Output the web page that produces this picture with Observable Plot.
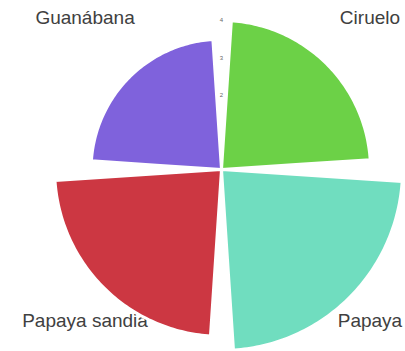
<!DOCTYPE html>
<html>
<head>
<meta charset="utf-8">
<script src="https://cdn.jsdelivr.net/npm/d3@7"></script>
<script src="https://cdn.jsdelivr.net/npm/@observablehq/plot@0.6"></script>
<style>
  html, body { margin: 0; padding: 0; background: #ffffff; }
  #chart svg { display: block; }
</style>
</head>
<body>
<div id="chart"></div>
<script>
const W = 405, H = 351;

// Data
const categories = ["Ciruelo", "Papaya", "Papaya sandia", "Guanábana"];
const values = [4.0, 4.86, 4.48, 3.5];
const colors = ["#6cd147", "#70ddbf", "#cc3742", "#7f62dc"];
const tickValues = [2, 3, 4];
const tickLabels = ["2", "3", "4"];

// Polar geometry via an azimuthal-equidistant projection centred on the pole
const DEG_PER_UNIT = 10;   // angular distance per value unit
const PAD = 3.8;           // angular gap on each side of a wedge (degrees)
const LABEL_R = 5.75;      // label radius in value units
const lonOf = theta => 180 - theta;      // theta: clockwise from 12 o'clock
const latOf = v => 90 - v * DEG_PER_UNIT;

const features = categories.map((name, i) => {
  const t0 = i * 90 + PAD, t1 = (i + 1) * 90 - PAD;
  const lat = latOf(values[i]);
  const outer = d3.range(t0, t1, 1).concat([t1]).map(t => [lonOf(t), lat]);
  const inner = [t1, t0].map(t => [lonOf(t), latOf(0.005)]);
  const ring = outer.concat(inner, [outer[0]]);
  return {type: "Feature", properties: {name}, geometry: {type: "Polygon", coordinates: [ring]}};
});

const labelData = categories.map((name, i) => ({name, i, theta: i * 90 + 45}));

const chart = Plot.plot({
  width: W,
  height: H,
  marginLeft: 72,
  marginRight: 35,
  marginTop: 20,
  marginBottom: 33,
  style: {fontFamily: "'Liberation Sans', Arial, sans-serif", background: "#ffffff"},
  projection: {
    type: "azimuthal-equidistant",
    rotate: [0, -90],
    domain: d3.geoCircle().center([0, 90]).radius(4 * DEG_PER_UNIT)(),
    inset: 0,
    clip: false
  },
  color: {domain: categories, range: colors},
  marks: [
    Plot.text(labelData, {
      filter: d => d.i < 2,
      x: d => lonOf(d.theta),
      y: () => latOf(LABEL_R),
      text: "name",
      fontSize: 19,
      fill: "#404040",
      dx: -3
    }),
    Plot.text(labelData, {
      filter: d => d.i >= 2,
      x: d => lonOf(d.theta),
      y: () => latOf(LABEL_R),
      text: "name",
      fontSize: 19,
      fill: "#404040",
      dx: 15
    }),
    Plot.geo(features, {fill: d => d.properties.name, stroke: "#ffffff", strokeWidth: 3}),
    Plot.text(tickValues, {
      x: () => lonOf(0),
      y: d => latOf(d),
      text: (d, i) => tickLabels[i],
      fontSize: 6,
      fill: "#666666"
    })
  ]
});

document.getElementById("chart").appendChild(chart);
</script>
</body>
</html>
